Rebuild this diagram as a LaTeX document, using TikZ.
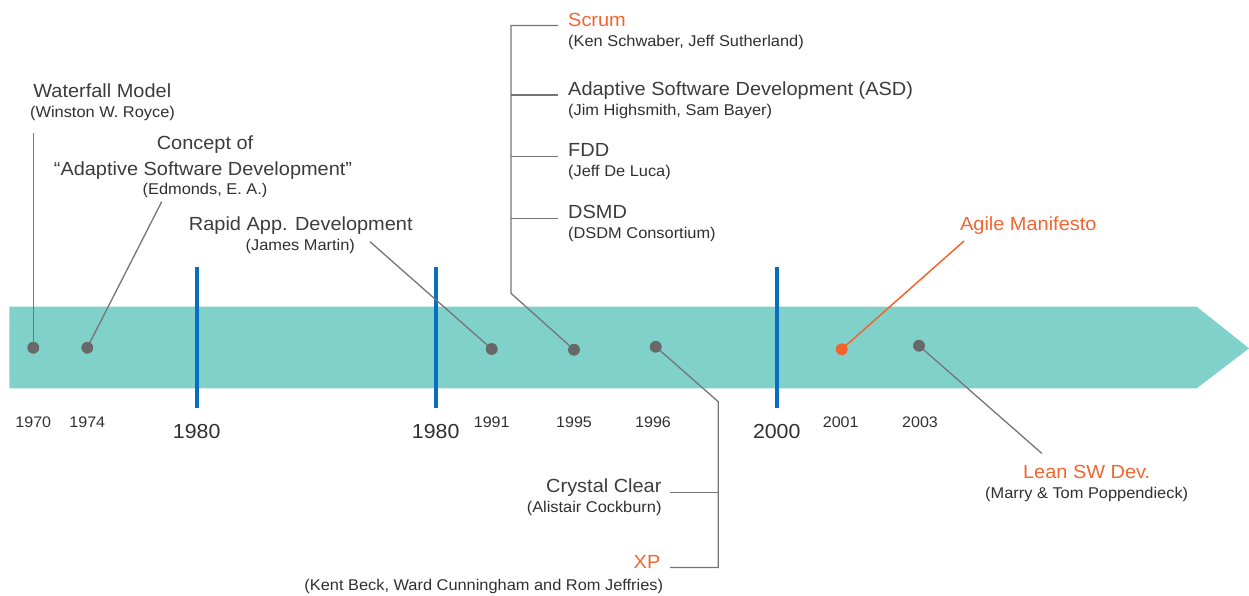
\documentclass[tikz,border=0pt]{standalone}
\usepackage{fontspec}
\setmainfont{Liberation Sans}[FakeStretch=1.05]
\definecolor{band}{HTML}{7FD1CA}
\definecolor{barblue}{HTML}{0A6EC0}
\definecolor{dotgray}{HTML}{686868}
\definecolor{leadgray}{HTML}{757575}
\definecolor{hot}{HTML}{F2652F}
\definecolor{maintext}{HTML}{3C3C3C}
\definecolor{subtext}{HTML}{303030}
\tikzset{
  mainlbl/.style={inner sep=0pt, text=maintext, font=\fontsize{19}{22}\selectfont},
  hotlbl/.style={mainlbl, text=hot},
  sublbl/.style={inner sep=0pt, text=subtext, font=\fontsize{15.6}{18}\selectfont},
  yearlbl/.style={inner sep=0pt, text=subtext, font=\fontsize{15.3}{18}\selectfont},
  bigyear/.style={inner sep=0pt, text=subtext, font=\fontsize{20.3}{24}\selectfont},
  eventdot/.style={circle, fill=dotgray, minimum size=11.6pt, inner sep=0pt},
  hotdot/.style={eventdot, fill=hot},
  decade/.style={draw=barblue, line width=4pt},
  lead/.style={draw=leadgray, line width=1.3pt},
  hotlead/.style={draw=hot, line width=1.5pt},
}
\begin{document}
\begin{tikzpicture}[x=1pt, y=-1pt]
\useasboundingbox (0,0) rectangle (1249,595);

% timeline arrow band
\fill[band] (9.3,306.7) -- (1196.7,306.7) -- (1249,348.3) -- (1196.7,388.3) -- (9.3,388.3) -- cycle;

% decade markers
\coordinate (b1t) at (196.7,266.7); \coordinate (b1b) at (196.7,408);
\coordinate (b2t) at (435.7,266.7); \coordinate (b2b) at (435.7,408);
\coordinate (b3t) at (776.7,266.7); \coordinate (b3b) at (776.7,408);
\draw[decade] (b1t) -- (b1b);
\draw[decade] (b2t) -- (b2b);
\draw[decade] (b3t) -- (b3b);
\node[bigyear, anchor=base] (y1980a) at (196.7,438) {1980};
\node[bigyear, anchor=base] (y1980b) at (435.7,438) {1980};
\node[bigyear, anchor=base] (y2000) at (776.7,438) {2000};

% year labels under the band
\node[yearlbl, anchor=base] (t1970) at (33.3,427.5) {1970};
\node[yearlbl, anchor=base] (t1974) at (87.3,427.5) {1974};
\node[yearlbl, anchor=base] (t1991) at (491.7,427.5) {1991};
\node[yearlbl, anchor=base] (t1995) at (574,427.5) {1995};
\node[yearlbl, anchor=base] (t1996) at (653,427.5) {1996};
\node[yearlbl, anchor=base] (t2001) at (840.7,427.5) {2001};
\node[yearlbl, anchor=base] (t2003) at (920,427.5) {2003};

% event labels above
\node[mainlbl, anchor=base] (wf) at (102.3,97.3) {Waterfall Model};
\node[sublbl, anchor=base] (wfa) at (102.5,117.3) {(Winston W. Royce)};
\node[mainlbl, anchor=base] (asc1) at (205,149.3) {Concept of};
\node[mainlbl, anchor=base] (asc2) at (203,175) {“Adaptive Software Development”};
\node[sublbl, anchor=base] (asca) at (205,194) {(Edmonds, E. A.)};
\node[mainlbl, anchor=base] (rad) at (300.8,230) {Rapid App. Development};
\node[sublbl, anchor=base] (rada) at (300.3,250) {(James Martin)};

% mid-nineties methods, left aligned
\node[hotlbl, anchor=base west] (scrum) at (568,26) {Scrum};
\node[sublbl, anchor=base west] (scruma) at (568,46.5) {(Ken Schwaber, Jeff Sutherland)};
\node[mainlbl, anchor=base west] (asd) at (568,95) {Adaptive Software Development (ASD)};
\node[sublbl, anchor=base west] (asda) at (568,115) {(Jim Highsmith, Sam Bayer)};
\node[mainlbl, anchor=base west] (fdd) at (568,156.7) {FDD};
\node[sublbl, anchor=base west] (fdda) at (568,176) {(Jeff De Luca)};
\node[mainlbl, anchor=base west] (dsmd) at (568,218.3) {DSMD};
\node[sublbl, anchor=base west] (dsmda) at (568,238) {(DSDM Consortium)};

% methods below the band, right aligned
\node[mainlbl, anchor=base east] (cc) at (661.7,492.7) {Crystal Clear};
\node[sublbl, anchor=base east] (cca) at (661.7,512.7) {(Alistair Cockburn)};
\node[hotlbl, anchor=base east] (xp) at (660.5,568.3) {XP};
\node[sublbl, anchor=base east] (xpa) at (663.3,590.7) {(Kent Beck, Ward Cunningham and Rom Jeffries)};

% right side
\node[hotlbl, anchor=base] (am) at (1028.3,230.7) {Agile Manifesto};
\node[hotlbl, anchor=base] (lean) at (1086.7,478) {Lean SW Dev.};
\node[sublbl, anchor=base] (leana) at (1086.7,498.3) {(Marry \& Tom Poppendieck)};

% leader end points
\coordinate (wfend) at (33.3,133);
\coordinate (ascend) at (161.7,201.7);
\coordinate (radend) at (370,241.7);
\coordinate (sctop) at (511,25.5);
\coordinate (scbend) at (511,293.3);
\coordinate (sc2) at (511,95);
\coordinate (sc3) at (511,156.7);
\coordinate (sc4) at (511,218.3);
\coordinate (xpbend) at (718.3,401.7);
\coordinate (xpbot) at (718.3,567.5);
\coordinate (ccj) at (718.3,492.5);
\coordinate (amend) at (964,241);
\coordinate (leanend) at (1041.7,453.3);

% event dots
\node[eventdot] (d1970) at (33.3,347.7) {};
\node[eventdot] (d1974) at (87.3,347.7) {};
\node[eventdot] (d1991) at (491.7,349) {};
\node[eventdot] (d1995) at (574,349.7) {};
\node[eventdot] (d1996) at (655.7,346.7) {};
\node[hotdot] (d2001) at (841.7,349.3) {};
\node[eventdot] (d2003) at (919,345.7) {};

% leaders
\draw[lead] (d1970.center) -- (wfend);
\draw[lead] (d1974.center) -- (ascend);
\draw[lead] (radend) -- (d1991.center);
\draw[lead] (d1995.center) -- (scbend) -- (sctop) -- ([xshift=-10pt]scrum.base west |- sctop);
\draw[lead] (sc2) -- ([xshift=-10pt]asd.base west |- sc2);
\draw[lead] (sc3) -- ([xshift=-10pt]fdd.base west |- sc3);
\draw[lead] (sc4) -- ([xshift=-10pt]dsmd.base west |- sc4);
\draw[lead] (d1996.center) -- (xpbend) -- (xpbot) -- ([xshift=9.5pt]xp.base east |- xpbot);
\draw[lead] (ccj) -- ([xshift=8.3pt]cc.base east |- ccj);
\draw[hotlead] (d2001.center) -- (amend);
\draw[lead] (d2003.center) -- (leanend);

% redraw dots over leader ends
\fill[dotgray] (d1970) circle (5.8pt) (d1974) circle (5.8pt) (d1991) circle (5.8pt)
  (d1995) circle (5.8pt) (d1996) circle (5.8pt) (d2003) circle (5.8pt);
\fill[hot] (d2001) circle (5.8pt);
\end{tikzpicture}
\end{document}
